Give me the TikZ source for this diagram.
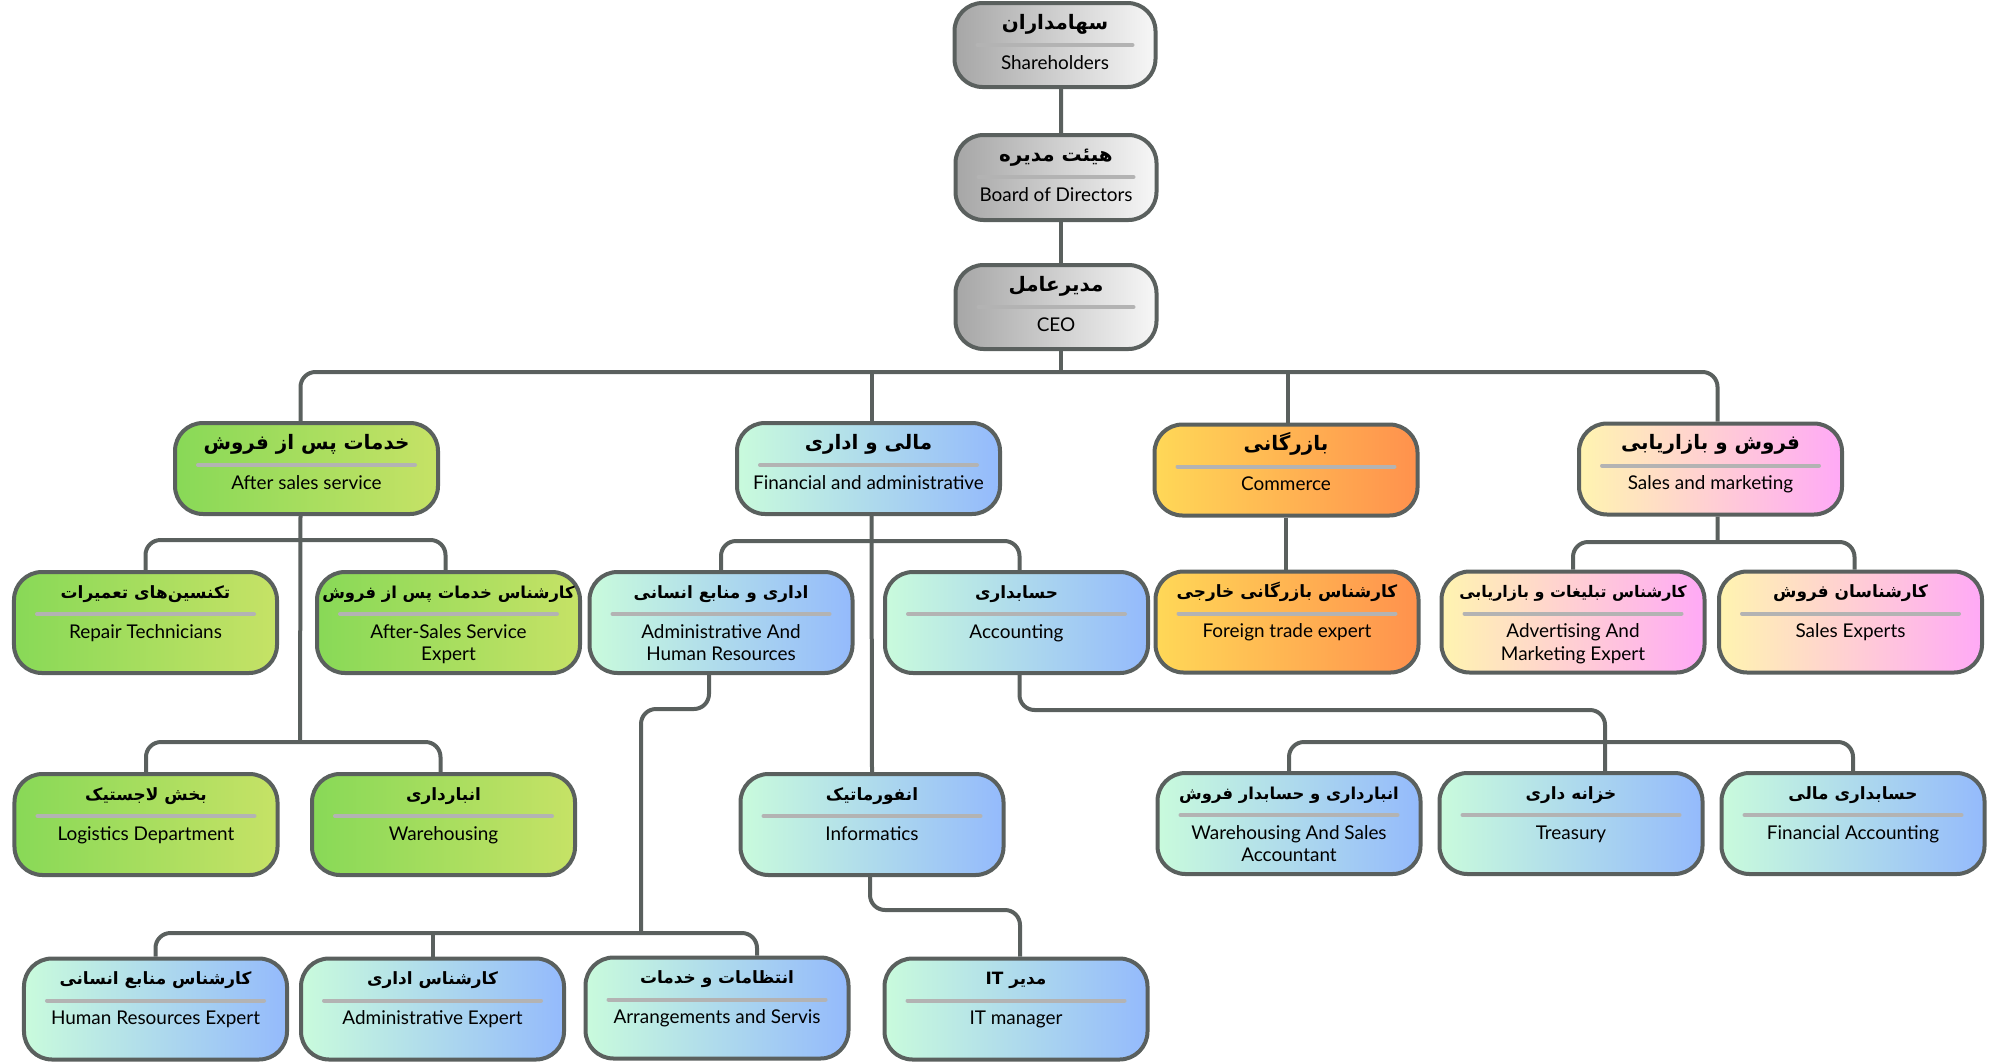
\documentclass[tikz,border=0pt]{standalone}
\usepackage{fontspec}
\setmainfont{Lato}
\newfontfamily\fafont[Script=Arabic]{DejaVu Sans}
\TeXXeTstate=1
\usetikzlibrary{calc}
\pgfdeclarelayer{background}
\pgfsetlayers{background,main}
\definecolor{bord}{HTML}{5A605E}
\definecolor{sepc}{HTML}{B3B3B3}
\definecolor{gyL}{HTML}{A6A6A6}\definecolor{gyR}{HTML}{F7F7F7}
\definecolor{grL}{HTML}{88D957}\definecolor{grR}{HTML}{C6E266}
\definecolor{blL}{HTML}{C9FBDC}\definecolor{blR}{HTML}{94BAFC}
\definecolor{orL}{HTML}{FFD857}\definecolor{orR}{HTML}{FF914D}
\definecolor{pkL}{HTML}{FFF4B0}\definecolor{pkR}{HTML}{FFA9F6}
\tikzset{
  obox/.style={draw=bord, line width=4bp, rounded corners=28bp, inner sep=0pt},
  conn/.style={draw=bord, line width=4bp, rounded corners=15bp},
  sepline/.style={draw=sepc, line width=4bp, line cap=round},
  fatext/.style={anchor=base, inner sep=0pt},
  entext/.style={anchor=base, inner sep=0pt, font=\fontsize{19}{23}\selectfont},
}
\newcommand{\obox}[9]{%
  \node[obox, minimum width=#4bp, minimum height=#5bp, left color=#6L, right color=#6R] (#1) at (#2,#3) {};
  \node[fatext, font=\fafont\bfseries\fontsize{#9}{22}\selectfont] (#1-fa) at ($(#1.north)+(0,28)$) {#7};
  \draw[sepline] ($(#1.north west)+(25,44)$) -- ($(#1.north east)+(-25,44)$);
  \node[entext] (#1-en) at ($(#1.north)+(0,68)$) {\begin{tabular}[t]{@{}c@{}}#8\end{tabular}};
}
\begin{document}
\begin{tikzpicture}[x=1bp,y=-1bp]
\useasboundingbox (0,0) rectangle (1999,1063);
\coordinate (bus) at (1000,372);
\coordinate (ab1) at (300,540);
\coordinate (ab2) at (300,742);
\coordinate (fb1) at (872,541);
\coordinate (sb1) at (1717.5,542);
\coordinate (accm) at (1300,710);
\coordinate (wb) at (1500,742);
\coordinate (hm) at (675,709);
\coordinate (hb) at (641,933);
\coordinate (im) at (950,910);
\obox{sh}{1055}{45}{201}{84}{gy}{\beginR سهامداران\endR}{Shareholders}{20}
\obox{bd}{1056}{177.5}{201}{85}{gy}{\beginR هیئت مدیره\endR}{Board of Directors}{20}
\obox{ceo}{1056}{307}{201}{84}{gy}{\beginR مدیرعامل\endR}{CEO}{20}
\obox{after}{306.5}{468.5}{263}{91}{gr}{\beginR خدمات پس از فروش\endR}{After sales service}{20}
\obox{fin}{868.5}{468.5}{263}{91}{bl}{\beginR مالی و اداری\endR}{Financial and administrative}{20}
\obox{com}{1286}{470}{263}{91}{or}{\beginR بازرگانی\endR}{Commerce}{20}
\obox{sm}{1710.5}{469}{263}{91}{pk}{\beginR فروش و بازاریابی\endR}{Sales and marketing}{20}
\obox{rep}{145.5}{622.5}{263}{101}{gr}{\beginR تکنسین^^^^200cهای تعمیرات\endR}{Repair Technicians}{17}
\obox{ase}{448.5}{622.5}{263}{101}{gr}{\beginR کارشناس خدمات پس از فروش\endR}{After-Sales Service\\Expert}{16.5}
\obox{ahr}{721}{622.5}{263}{101}{bl}{\beginR اداری و منابع انسانی\endR}{Administrative And\\Human Resources}{17}
\obox{acc}{1016.5}{622.5}{263}{101}{bl}{\beginR حسابداری\endR}{Accounting}{17}
\obox{fte}{1287}{622}{263}{101}{or}{\beginR کارشناس بازرگانی خارجی\endR}{Foreign trade expert}{17}
\obox{adv}{1573}{622}{263}{101}{pk}{\beginR کارشناس تبلیغات و بازاریابی\endR}{Advertising And\\Marketing Expert}{16}
\obox{sex}{1850.5}{622}{263}{101}{pk}{\beginR کارشناسان فروش\endR}{Sales Experts}{17}
\obox{log}{146}{824.5}{263}{101}{gr}{\beginR بخش لاجستیک\endR}{Logistics Department}{17}
\obox{wh}{443.5}{824.5}{263}{101}{gr}{\beginR انبارداری\endR}{Warehousing}{17}
\obox{inf}{872}{824.5}{263}{101}{bl}{\beginR انفورماتیک\endR}{Informatics}{17}
\obox{was}{1289}{823.5}{263}{101}{bl}{\beginR انبارداری و حسابدار فروش\endR}{Warehousing And Sales\\Accountant}{16.5}
\obox{tre}{1571}{823.5}{263}{101}{bl}{\beginR خزانه داری\endR}{Treasury}{17}
\obox{fac}{1853}{823.5}{263}{101}{bl}{\beginR حسابداری مالی\endR}{Financial Accounting}{17}
\obox{hre}{155.5}{1009}{263}{101}{bl}{\beginR کارشناس منابع انسانی\endR}{Human Resources Expert}{17}
\obox{ade}{432.5}{1009}{263}{101}{bl}{\beginR کارشناس اداری\endR}{Administrative Expert}{17}
\obox{arr}{717}{1008}{263}{101}{bl}{\beginR انتظامات و خدمات\endR}{Arrangements and Servis}{17}
\obox{itm}{1016}{1009}{263}{101}{bl}{\beginR مدیر \beginL IT\endL\endR}{IT manager}{17}
\begin{pgfonlayer}{background}
\draw[conn] ([xshift=6bp]sh.south) -- ([xshift=5bp]bd.north);
\draw[conn] ([xshift=5bp]bd.south) -- ([xshift=5bp]ceo.north);
\draw[conn] ([xshift=5bp]ceo.south) -- ([xshift=5bp]ceo.south |- bus);
\draw[conn] ([xshift=-6bp]after.north) |- (bus) -| ([xshift=7bp]sm.north);
\draw[conn] ([xshift=3bp]fin.north) -- ([xshift=3bp]fin.north |- bus);
\draw[conn] ([xshift=2bp]com.north) -- ([xshift=2bp]com.north |- bus);
\draw[conn] ([xshift=-6bp]after.south) -- (ab2);
\draw[conn] (rep.north) |- (ab1) -| ([xshift=-3bp]ase.north);
\draw[conn] (log.north) |- (ab2) -| ([xshift=-3bp]wh.north);
\draw[conn] ([xshift=3bp]fin.south) -- (inf.north);
\draw[conn] (ahr.north) |- (fb1) -| ([xshift=3bp]acc.north);
\draw[conn] (com.south) -- (com.south |- fte.north);
\draw[conn] ([xshift=7bp]sm.south) -- (sb1);
\draw[conn] (adv.north) |- (sb1) -| ([xshift=4bp]sex.north);
\draw[conn] ([xshift=3bp]acc.south) |- (accm) -| ([xshift=34bp]tre.north);
\draw[conn] (was.north) |- (wb) -| (fac.north);
\draw[conn] ([xshift=-12bp]ahr.south) |- (hm) -| (hb);
\draw[conn] (hre.north) |- (hb) -| ([xshift=40bp]arr.north);
\draw[conn] (ade.north) -- (ade.north |- hb);
\draw[conn] ([xshift=-2bp]inf.south) |- (im) -| ([xshift=4bp]itm.north);
\end{pgfonlayer}
\end{tikzpicture}
\end{document}
